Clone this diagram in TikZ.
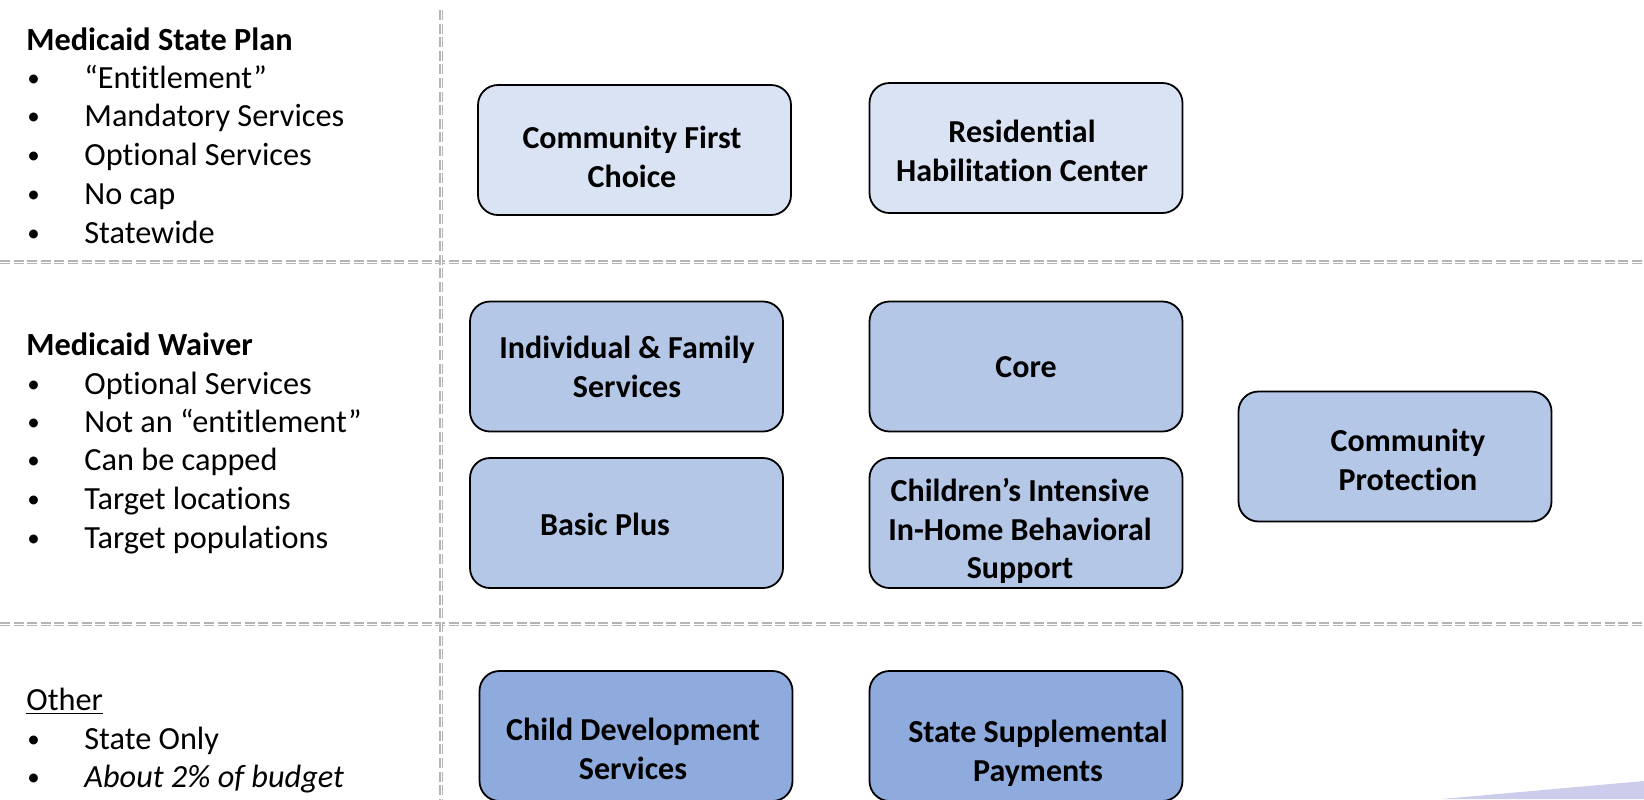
\documentclass[tikz,border=0pt]{standalone}
\usepackage{fontspec}
\setmainfont{Carlito}[Ligatures={NoCommon}]
\usetikzlibrary{calc}
\definecolor{boxA}{HTML}{DAE3F3}
\definecolor{boxB}{HTML}{B4C7E7}
\definecolor{boxC}{HTML}{8FAADC}
\definecolor{sepgray}{HTML}{B4B4B4}
\definecolor{wedgecol}{HTML}{CBCDEB}
\begin{document}
\begin{tikzpicture}[x=0.5pt,y=-0.5pt,
 sepline/.style={draw=sepgray, line width=0.55pt, double=white, double distance=0.5pt, dash pattern=on 5pt off 1.8pt},
 svc/.style={draw=black, line width=0.9pt, rounded corners=10pt, minimum width=156.5pt, minimum height=65pt, inner sep=0pt},
 svctext/.style={font=\fontsize{16}{19.4}\selectfont\bfseries, align=center, inner sep=0pt},
 hd/.style={anchor=base west, inner sep=0pt, font=\fontsize{16.15}{19.4}\selectfont\bfseries},
 itm/.style={anchor=base west, inner sep=0pt, font=\fontsize{16.15}{19.4}\selectfont},
 bul/.style={anchor=base west, inner sep=0pt, font=\fontsize{12.5}{15}\selectfont, yshift=0.6pt},
]
\useasboundingbox (0,0) rectangle (1644,799);
\fill[white] (0,0) rectangle (1644,799);

% separators
\coordinate (v1) at (441,10);
\coordinate (v2) at (441,799);
\coordinate (hA1) at (0,262);
\coordinate (hA2) at (1644,262);
\coordinate (hB1) at (0,624);
\coordinate (hB2) at (1644,624);
\draw[sepline] (hA1) -- (hA2);
\draw[sepline] (hB1) -- (hB2);
\draw[sepline] (v1) -- (v2);

% decorative wedge
\fill[wedgecol] (1442,799) -- (1644,781) -- (1644,799) -- cycle;

% left column: Medicaid State Plan
\node[hd] (h1) at (26,50) {Medicaid State Plan};
\node[bul] (b1a) at (27,88) {•};  \node[itm] (t1a) at (84,88) {“Entitlement”};
\node[bul] (b1b) at (27,126) {•}; \node[itm] (t1b) at (84,126) {Mandatory Services};
\node[bul] (b1c) at (27,165) {•}; \node[itm] (t1c) at (84,165) {Optional Services};
\node[bul] (b1d) at (27,204) {•}; \node[itm] (t1d) at (84,204) {No cap};
\node[bul] (b1e) at (27,243) {•}; \node[itm] (t1e) at (84,243) {Statewide};

% Medicaid Waiver
\node[hd] (h2) at (26,355) {Medicaid Waiver};
\node[bul] (b2a) at (27,394) {•}; \node[itm] (t2a) at (84,394) {Optional Services};
\node[bul] (b2b) at (27,432) {•}; \node[itm] (t2b) at (84,432) {Not an “entitlement”};
\node[bul] (b2c) at (27,470) {•}; \node[itm] (t2c) at (84,470) {Can be capped};
\node[bul] (b2d) at (27,509) {•}; \node[itm] (t2d) at (84,509) {Target locations};
\node[bul] (b2e) at (27,548) {•}; \node[itm] (t2e) at (84,548) {Target populations};

% Other
\node[itm] (h3) at (26,710) {\underline{Other}};
\node[bul] (b3a) at (27,749) {•}; \node[itm] (t3a) at (84,749) {State Only};
\node[bul] (b3b) at (27,787) {•}; \node[itm] (t3b) at (84,787) {\itshape About 2\% of budget};

% service boxes
\node[svc, fill=boxA] (cfc) at (634.5,150) {};
\node[svctext] (cfct) at (632,157) {Community First\\Choice};
\node[svc, fill=boxA] (rhc) at (1026,148) {};
\node[svctext] (rhct) at (1022,151) {Residential\\Habilitation Center};

\node[svc, fill=boxB] (ifs) at (626.5,366.5) {};
\node[svctext] (ifst) at (627,366.5) {Individual \& Family\\Services};
\node[svc, fill=boxB] (core) at (1026,366.5) {};
\node[svctext] (coret) at (1026,367) {Core};
\node[svc, fill=boxB] (bp) at (626.5,523) {};
\node[svctext] (bpt) at (605,524) {Basic Plus};
\node[svc, fill=boxB] (ciibs) at (1026,523) {};
\node[svctext] (ciibst) at (1020,531) {Children’s Intensive\\In-Home Behavioral\\Support};
\node[svc, fill=boxB] (cp) at (1395,456.5) {};
\node[svctext] (cpt) at (1408,460) {Community\\Protection};

\node[svc, fill=boxC] (cds) at (636,736) {};
\node[svctext] (cdst) at (633,749) {Child Development\\Services};
\node[svc, fill=boxC] (ssp) at (1026,736) {};
\node[svctext] (sspt) at (1038,753) {State Supplemental\\Payments};
\end{tikzpicture}
\end{document}
